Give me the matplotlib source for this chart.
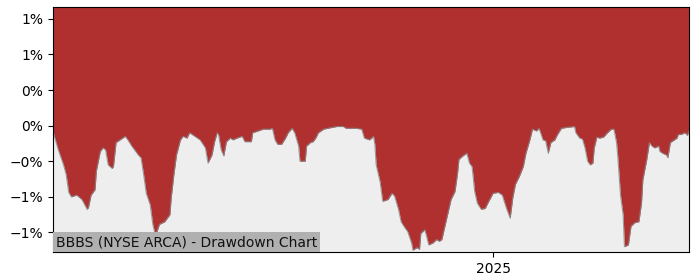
import matplotlib
matplotlib.use("Agg")
import matplotlib.pyplot as plt
import matplotlib.dates as mdates
from matplotlib.ticker import PercentFormatter
import pandas as pd

start_date = "2024-02-01"
day_offsets = [0, 4, 8, 10, 12, 14, 18, 22, 26, 27, 29, 32, 33, 36, 38, 40, 42, 45, 46, 48,
               51, 55, 57, 60, 62, 65, 67, 69, 71, 74, 76, 78, 81, 85, 89, 90, 92, 94, 97, 99,
               102, 104, 108, 112, 116, 118, 121, 123,
               125, 126, 128, 130, 132, 135, 137, 140, 144, 146, 151, 152, 156, 160, 165, 167,
               169, 171, 174, 177, 179, 182, 184, 187, 188, 192, 193, 196, 198, 200, 202, 206,
               209, 216, 221, 223, 231, 235, 237, 241, 244,
               245, 246, 249, 251, 255, 258, 260, 263, 265, 268, 270, 273, 274, 277, 279, 280,
               283, 284, 286, 289, 292, 294, 296, 298, 301, 303, 306, 308, 309, 312, 315, 317,
               319, 321, 323, 326, 329, 331, 335, 339, 342, 345, 348, 350, 352, 355, 358, 360,
               363, 365,
               368, 370, 373, 375, 377, 379, 382, 384, 387, 391, 397, 398, 401, 403, 405, 407,
               409, 411, 412, 414, 416, 419, 422, 425, 427, 429, 430, 432, 434, 435, 438, 440,
               443, 446, 448, 449, 452, 454, 456, 458, 461, 462, 464, 467, 468, 470, 473, 475,
               476, 478, 481, 483, 484]
drawdown_pct = [-0.07, -0.27, -0.44, -0.55, -0.75, -0.80, -0.78, -0.83, -0.94, -0.92, -0.78, -0.72,
                -0.51, -0.29, -0.25, -0.27, -0.44, -0.48, -0.46, -0.19, -0.16, -0.12, -0.16, -0.23,
                -0.27, -0.33, -0.36, -0.55, -0.76, -0.89, -1.11, -1.24, -1.11, -1.08, -1.00, -0.81,
                -0.55, -0.33, -0.16, -0.12, -0.14, -0.08, -0.12, -0.16, -0.25, -0.42, -0.33, -0.18,
                -0.08, -0.10, -0.27, -0.34, -0.18, -0.14, -0.16, -0.14, -0.12, -0.18, -0.18, -0.08,
                -0.06, -0.04, -0.04, -0.03, -0.16, -0.21, -0.21, -0.14, -0.08, -0.03, -0.08, -0.23,
                -0.40, -0.40, -0.23, -0.19, -0.18, -0.14, -0.08, -0.04, -0.03, -0.01, -0.01, -0.03,
                -0.03, -0.04, -0.14, -0.16, -0.12,
                -0.21, -0.44, -0.63, -0.85, -0.83, -0.76, -0.79, -0.94, -1.08, -1.15, -1.19, -1.32,
                -1.40, -1.37, -1.39, -1.21, -1.17, -1.22, -1.34, -1.32, -1.28, -1.30, -1.28, -1.15,
                -0.96, -0.83, -0.74, -0.53, -0.38, -0.34, -0.31, -0.42, -0.46, -0.74, -0.87, -0.94,
                -0.93, -0.87, -0.76, -0.75, -0.78, -0.92, -1.04, -0.81, -0.66, -0.57, -0.46, -0.31,
                -0.16, -0.04,
                -0.06, -0.03, -0.16, -0.17, -0.31, -0.19, -0.16, -0.10, -0.03, -0.02, -0.01, -0.08,
                -0.14, -0.15, -0.25, -0.40, -0.44, -0.42, -0.25, -0.13, -0.14, -0.13, -0.08, -0.04,
                -0.04, -0.19, -0.36, -0.78, -1.00, -1.36, -1.34, -1.13, -1.09, -1.08, -0.87, -0.61,
                -0.38, -0.19, -0.23, -0.25, -0.23, -0.29, -0.31, -0.33, -0.36, -0.19, -0.16, -0.14,
                -0.10, -0.10, -0.08, -0.11, -0.06]
y_ticks = [-1.2, -0.8, -0.4, 0.0, 0.4, 0.8, 1.2]
y_limits = (-1.42, 1.33)
title = "BBBS (NYSE ARCA) - Drawdown Chart"

dates = pd.to_datetime(start_date) + pd.to_timedelta(day_offsets, unit="D")

fig = plt.figure(figsize=(7, 2.8), dpi=100)
ax = fig.add_axes([0.0757, 0.1, 0.9083, 0.874])
ax.set_facecolor("#eeeeee")
ax.fill_between(dates, drawdown_pct, y_limits[1], color="#b03030", linewidth=0)
ax.plot(dates, drawdown_pct, color="#888888", linewidth=0.8, alpha=0.8)
ax.set_xlim(dates[0], dates[-1])
ax.set_ylim(*y_limits)
ax.set_yticks(y_ticks)
ax.yaxis.set_major_formatter(PercentFormatter(xmax=100, decimals=0))
ax.xaxis.set_major_locator(mdates.YearLocator())
ax.xaxis.set_major_formatter(mdates.DateFormatter("%Y"))
ax.text(0.005, 0.012, title, transform=ax.transAxes, fontsize=10, color="#111111",
        ha="left", va="bottom",
        bbox=dict(facecolor="#b0b0b0", edgecolor="none", pad=2))
fig.savefig("out.png", dpi=100)
